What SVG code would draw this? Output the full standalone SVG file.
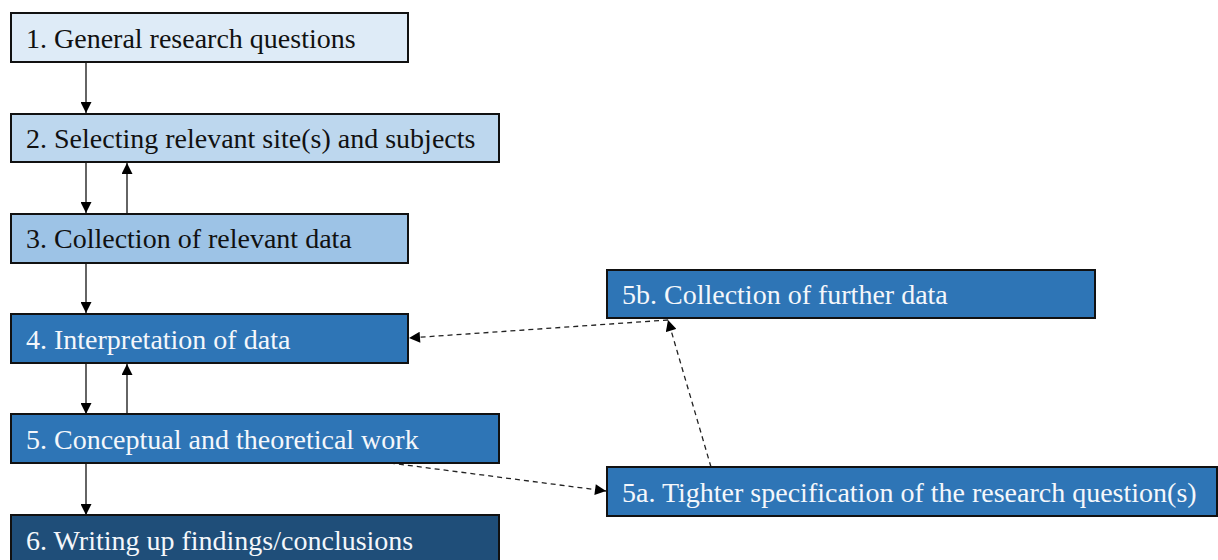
<svg xmlns="http://www.w3.org/2000/svg" width="1218" height="560" viewBox="0 0 1218 560">
  <style>
    .box { stroke: #111; stroke-width: 2; }
    .lbl { font-family: "Liberation Serif", "Times New Roman", serif; font-size: 28px; }
    .dark { fill: #f4f7fb; }
    .light { fill: #111111; }
    .solid { stroke: #111; stroke-width: 1.3; fill: none; }
    .dash { stroke: #222; stroke-width: 1.3; fill: none; stroke-dasharray: 5 4; }
  </style>
  <defs>
    <marker id="arrow" viewBox="0 0 10 10" refX="10" refY="5" markerWidth="12" markerHeight="11" markerUnits="userSpaceOnUse" orient="auto">
      <path d="M0,0 L10,5 L0,10 Z" fill="#000"/>
    </marker>
  </defs>
  <rect width="1218" height="560" fill="#ffffff"/>

  <g id="connectors">
    <line class="solid" x1="86" y1="62" x2="86" y2="113" marker-end="url(#arrow)"/>
    <line class="solid" x1="86" y1="162" x2="86" y2="213" marker-end="url(#arrow)"/>
    <line class="solid" x1="127" y1="213" x2="127" y2="163" marker-end="url(#arrow)"/>
    <line class="solid" x1="86" y1="263" x2="86" y2="313" marker-end="url(#arrow)"/>
    <line class="solid" x1="86" y1="363" x2="86" y2="414" marker-end="url(#arrow)"/>
    <line class="solid" x1="127" y1="414" x2="127" y2="364" marker-end="url(#arrow)"/>
    <line class="solid" x1="86" y1="463" x2="86" y2="515" marker-end="url(#arrow)"/>
    <line class="dash" x1="668" y1="320" x2="409" y2="338" marker-end="url(#arrow)"/>
    <line class="dash" x1="711" y1="467" x2="668" y2="320" marker-end="url(#arrow)"/>
    <line class="dash" x1="390" y1="463" x2="606" y2="491" marker-end="url(#arrow)"/>
  </g>

  <g id="node1">
    <rect class="box" x="11" y="13" width="397" height="49" fill="#deebf7"/>
    <text class="lbl light" x="26" y="48">1. General research questions</text>
  </g>
  <g id="node2">
    <rect class="box" x="11" y="114" width="488" height="48" fill="#bdd7ee"/>
    <text class="lbl light" x="26" y="148">2. Selecting relevant site(s) and subjects</text>
  </g>
  <g id="node3">
    <rect class="box" x="11" y="214" width="397" height="49" fill="#9dc3e6"/>
    <text class="lbl light" x="26" y="248">3. Collection of relevant data</text>
  </g>
  <g id="node4">
    <rect class="box" x="11" y="314" width="397" height="49" fill="#2e75b6"/>
    <text class="lbl dark" x="26" y="349">4. Interpretation of data</text>
  </g>
  <g id="node5">
    <rect class="box" x="11" y="414" width="488" height="49" fill="#2e75b6"/>
    <text class="lbl dark" x="26" y="449">5. Conceptual and theoretical work</text>
  </g>
  <g id="node6">
    <rect class="box" x="11" y="515" width="488" height="60" fill="#1f4e79"/>
    <text class="lbl dark" x="26" y="550">6. Writing up findings/conclusions</text>
  </g>
  <g id="node5b">
    <rect class="box" x="607" y="270" width="488" height="48" fill="#2e75b6"/>
    <text class="lbl dark" x="622" y="304">5b. Collection of further data</text>
  </g>
  <g id="node5a">
    <rect class="box" x="607" y="467" width="610" height="49" fill="#2e75b6"/>
    <text class="lbl dark" x="622" y="502">5a. Tighter specification of the research question(s)</text>
  </g>
</svg>
